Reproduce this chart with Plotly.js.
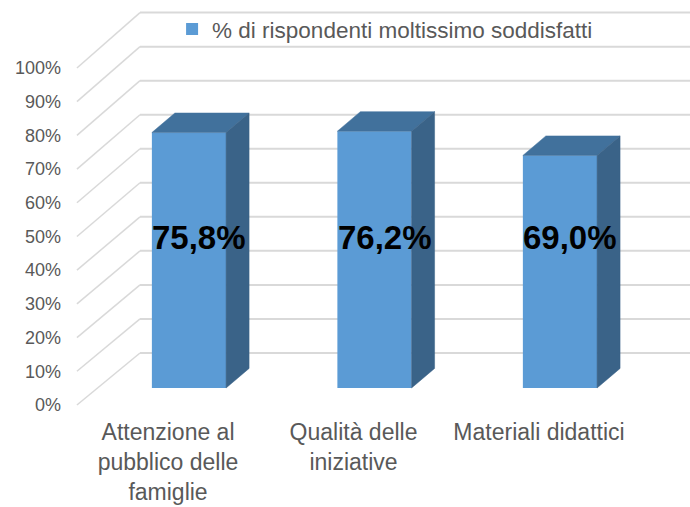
<!DOCTYPE html>
<html>
<head>
<meta charset="utf-8">
<script src="https://cdn.plot.ly/plotly-3.0.1.min.js"></script>
<style>html,body{margin:0;padding:0;background:#fff;}#chart{width:690px;height:507px;}</style>
</head>
<body>
<div id="chart"></div>
<script>
// ---- data ----
var categories = ['Attenzione al<br>pubblico delle<br>famiglie', 'Qualità delle<br>iniziative', 'Materiali didattici'];
var values = [75.8, 76.2, 69.0];
var valueLabels = ['75,8%', '76,2%', '69,0%'];
var yTicks = [0, 10, 20, 30, 40, 50, 60, 70, 80, 90, 100];
var yTickLabels = ['0%', '10%', '20%', '30%', '40%', '50%', '60%', '70%', '80%', '90%', '100%'];
var seriesName = '% di rispondenti moltissimo soddisfatti';

// ---- geometry / style ----
var FONT = '"Liberation Sans", Arial, sans-serif';
var barW = 0.4, depthX = 0.124, depthY = 5.8;
var frontDy = -5.04, frontX = -0.604;   // front (label) plane
var backDy = 10.39, backX = -0.264, backScale = 1.01;
var xr = [-0.663, 2.701], yr = [-9.50, 115.13];
var catShift = 0.113;
var gridColor = '#d9d9d9';

var xs = categories.map(function (_, i) { return i; });

// top and side faces
var topX = [], topY = [], sideX = [], sideY = [];
xs.forEach(function (x, i) {
  var v = values[i], x0 = x - barW / 2, x1 = x + barW / 2;
  topX.push(x0, x1, x1 + depthX, x0 + depthX, x0, null);
  topY.push(v, v, v + depthY, v + depthY, v, null);
  sideX.push(x1, x1 + depthX, x1 + depthX, x1, x1, null);
  sideY.push(0, depthY, v + depthY, v, 0, null);
});

var traces = [
  {type: 'bar', x: xs, y: values, width: barW, name: seriesName,
   marker: {color: '#5b9bd5', line: {width: 0}}, hoverinfo: 'skip'},
  {type: 'scatter', x: topX, y: topY, mode: 'lines', fill: 'toself', fillcolor: '#41719c',
   line: {color: '#41719c', width: 0.5}, showlegend: false, hoverinfo: 'skip', connectgaps: false},
  {type: 'scatter', x: sideX, y: sideY, mode: 'lines', fill: 'toself', fillcolor: '#3a6388',
   line: {color: '#3a6388', width: 0.5}, showlegend: false, hoverinfo: 'skip', connectgaps: false},
  // dummy trace to activate secondary axes
  {type: 'scatter', x: [], y: [], xaxis: 'x2', yaxis: 'y2', showlegend: false, hoverinfo: 'skip'}
];

var shapes = [];
yTicks.forEach(function (v) {
  var yb = backDy + v * backScale;
  shapes.push({type: 'line', xref: 'x', yref: 'y', x0: backX, x1: xr[1] + 0.1, y0: yb, y1: yb,
               line: {color: gridColor, width: 2}, layer: 'below'});
  shapes.push({type: 'line', xref: 'x', yref: 'y', x0: frontX, x1: backX, y0: v + frontDy, y1: yb,
               line: {color: gridColor, width: 1.5}, layer: 'below'});
});

var annotations = xs.map(function (x, i) {
  return {x: x + 0.055, y: 44.8, xref: 'x', yref: 'y', text: '<b>' + valueLabels[i] + '</b>', showarrow: false,
          font: {family: FONT, size: 33, color: '#000'}, xanchor: 'center', yanchor: 'middle'};
});

var layout = {
  width: 690, height: 507,
  margin: {l: 66, r: 0, t: 0, b: 87},
  paper_bgcolor: '#fff', plot_bgcolor: 'rgba(0,0,0,0)',
  font: {family: FONT, color: '#595959'},
  showlegend: true,
  legend: {x: 0.17, xanchor: 'left', y: 0.93, yanchor: 'middle', orientation: 'h',
           font: {family: FONT, size: 22.5, color: '#595959'}, bgcolor: 'rgba(0,0,0,0)'},
  xaxis: {range: xr, showgrid: false, zeroline: false, showline: false, showticklabels: false, ticks: ''},
  yaxis: {range: yr, showgrid: false, zeroline: false, showline: false, showticklabels: false, ticks: ''},
  xaxis2: {overlaying: 'x', anchor: 'free', position: 0.01, side: 'bottom', range: [xr[0] + catShift, xr[1] + catShift],
           tickmode: 'array', tickvals: xs, ticktext: categories, showgrid: false, zeroline: false,
           showline: false, ticks: '', tickfont: {family: FONT, size: 23, color: '#595959'}},
  yaxis2: {overlaying: 'y', anchor: 'x', side: 'left', range: [yr[0] - frontDy, yr[1] - frontDy],
           tickmode: 'array', tickvals: yTicks, ticktext: yTickLabels, showgrid: false, zeroline: false,
           showline: false, ticks: '', ticklabelstandoff: 4,
           tickfont: {family: FONT, size: 18, color: '#595959'}},
  shapes: shapes,
  annotations: annotations
};

Plotly.newPlot('chart', traces, layout, {staticPlot: true});
</script>
</body>
</html>
